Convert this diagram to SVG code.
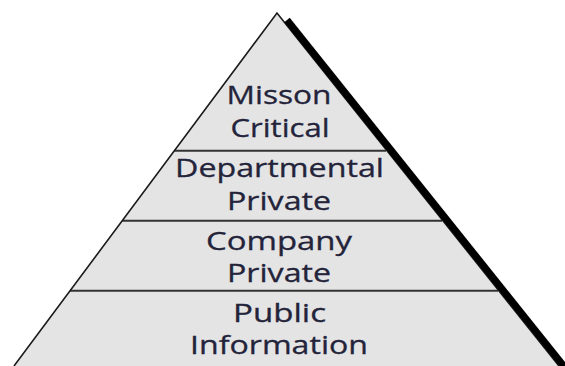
<svg xmlns="http://www.w3.org/2000/svg" width="565" height="366" viewBox="0 0 565 366">
<style>
.tier{fill:#e4e4e4;stroke:none}
.lbl{font-family:"Open Sans","Liberation Sans",sans-serif;font-size:25px;fill:#23233a;text-anchor:middle;stroke:#23233a;stroke-width:0.3}
.div{stroke:#333;stroke-width:2;fill:none}
.edge{stroke:#1a1a1a;stroke-width:1.6;fill:none}
.shadow{stroke:#000;stroke-width:7;fill:none}
</style>
<rect width="565" height="366" fill="#fff"/>
<g id="tier-mission">
<polygon class="tier" points="277,13 174.4,150.7 387,150.7"/>
<text class="lbl" x="279" y="104" textLength="105" lengthAdjust="spacingAndGlyphs">Misson</text>
<text class="lbl" x="280" y="137" textLength="99" lengthAdjust="spacingAndGlyphs">Critical</text>
</g>
<g id="tier-departmental">
<polygon class="tier" points="174.4,150.7 387,150.7 443,220.7 122.3,220.7"/>
<text class="lbl" x="279.5" y="177" textLength="209" lengthAdjust="spacingAndGlyphs">Departmental</text>
<text class="lbl" x="279" y="210" textLength="104" lengthAdjust="spacingAndGlyphs">Private</text>
</g>
<g id="tier-company">
<polygon class="tier" points="122.3,220.7 443,220.7 498.9,290.7 70.1,290.7"/>
<text class="lbl" x="279" y="250" textLength="146" lengthAdjust="spacingAndGlyphs">Company</text>
<text class="lbl" x="279" y="282" textLength="104" lengthAdjust="spacingAndGlyphs">Private</text>
</g>
<g id="tier-public">
<polygon class="tier" points="70.1,290.7 498.9,290.7 559,366 14,366"/>
<text class="lbl" x="279.5" y="322" textLength="93" lengthAdjust="spacingAndGlyphs">Public</text>
<text class="lbl" x="279" y="354" textLength="178" lengthAdjust="spacingAndGlyphs">Information</text>
</g>
<g id="connectors">
<line class="div" x1="174.4" y1="150.7" x2="386" y2="150.7"/>
<line class="div" x1="122.3" y1="220.7" x2="442" y2="220.7"/>
<line class="div" x1="70.1" y1="290.7" x2="498" y2="290.7"/>
<polyline class="edge" points="14,366 277,13 559,366"/>
<line class="shadow" x1="287" y1="20" x2="565.3" y2="368"/>
</g>
</svg>
